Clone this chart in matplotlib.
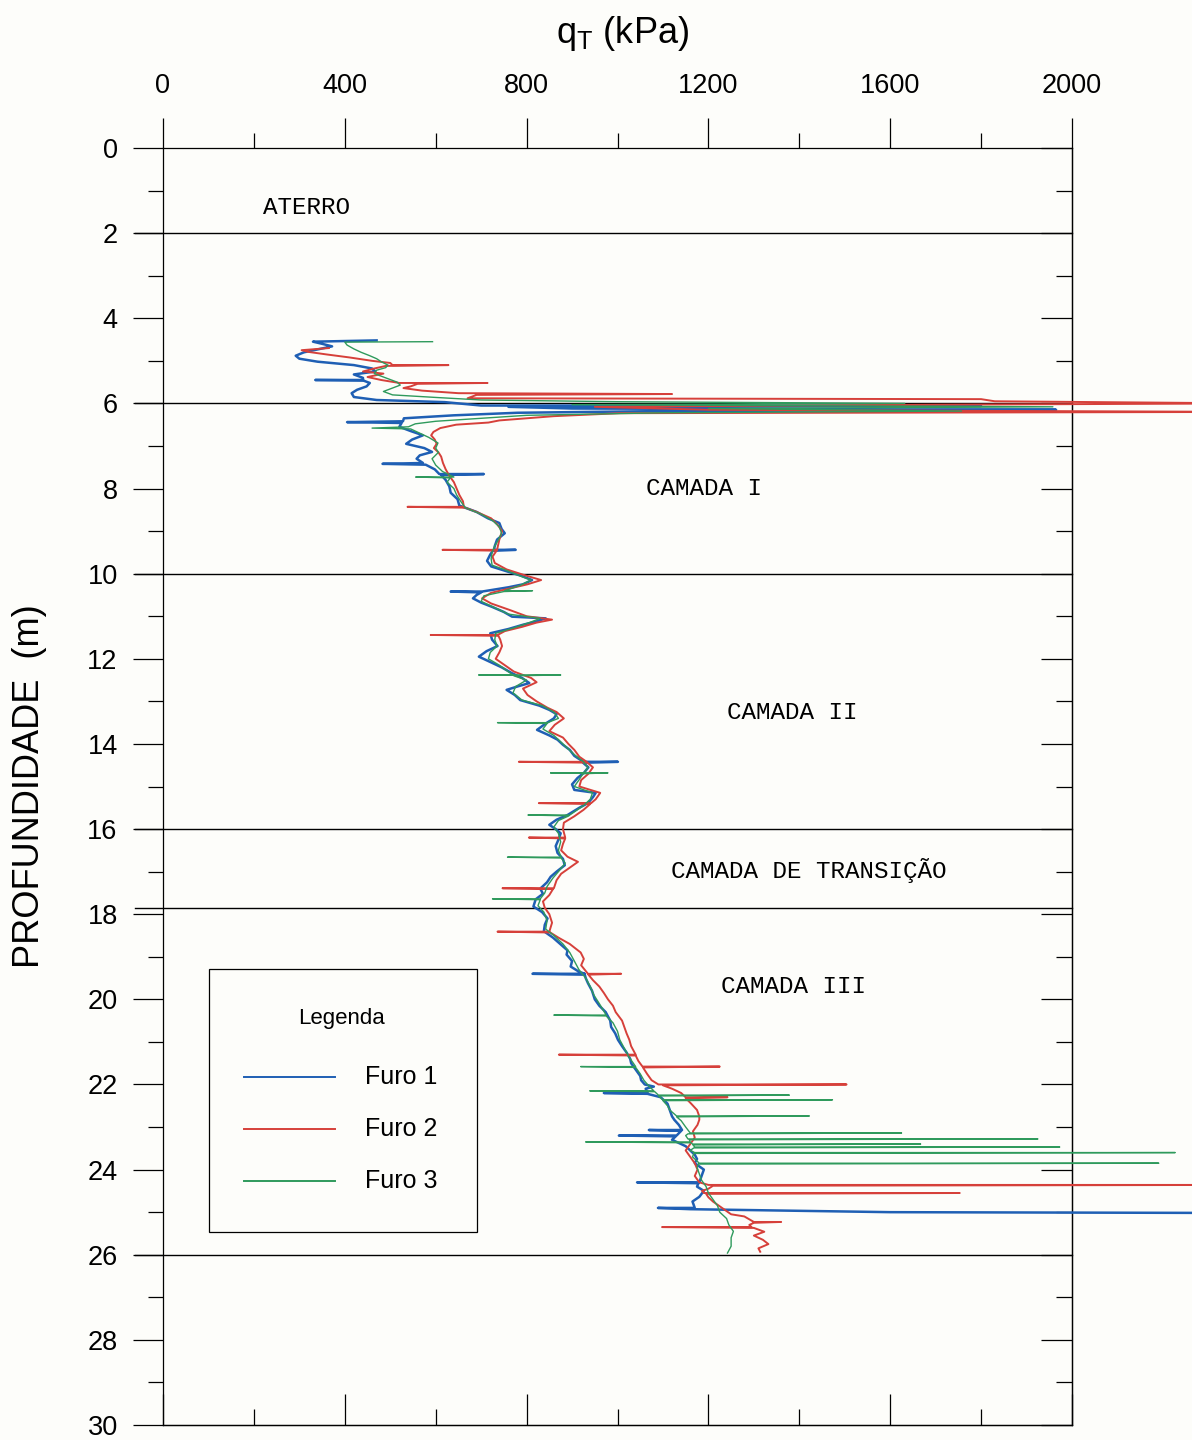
##import modules
import matplotlib
matplotlib.use("Agg")
import matplotlib.pyplot as plt
from matplotlib.ticker import MultipleLocator
from matplotlib.lines import Line2D
from matplotlib.patches import Rectangle

plt.rcParams['font.family'] = ['Liberation Sans', 'DejaVu Sans']
plt.rcParams['mathtext.fontset'] = 'custom'
plt.rcParams['mathtext.rm'] = 'Liberation Sans'
plt.rcParams['mathtext.it'] = 'Liberation Sans'

##data: (depth m, qT kPa)
furo1 = [(4.52, 470), (4.55, 330), (4.60, 350), (4.66, 372), (4.72, 345), (4.80, 310), (4.88, 292), (4.95, 300),
         (5.02, 340), (5.10, 420), (5.18, 460), (5.25, 467), (5.32, 420), (5.40, 440), (5.45, 440), (5.45, 335),
         (5.46, 440), (5.52, 455), (5.60, 448), (5.68, 427), (5.76, 415), (5.85, 420), (5.92, 470), (5.97, 620),
         (6.03, 680), (6.05, 700), (6.06, 1800), (6.08, 760), (6.12, 900), (6.15, 1965), (6.18, 1100), (6.22, 780),
         (6.28, 640), (6.35, 530), (6.42, 528), (6.44, 405), (6.46, 525), (6.55, 520), (6.65, 545), (6.75, 572),
         (6.85, 548), (6.95, 535), (7.05, 575), (7.14, 592), (7.22, 565), (7.30, 558), (7.40, 572), (7.42, 483),
         (7.44, 578), (7.55, 598), (7.66, 608), (7.66, 706), (7.68, 612), (7.80, 622), (7.95, 630), (8.10, 633),
         (8.25, 648), (8.40, 652), (8.55, 690), (8.70, 715), (8.81, 740), (8.95, 745), (9.05, 752), (9.20, 735),
         (9.35, 730), (9.44, 728), (9.44, 776), (9.46, 726), (9.55, 720), (9.70, 713), (9.83, 722), (9.95, 758),
         (10.05, 788), (10.15, 812), (10.25, 792), (10.32, 760), (10.42, 702), (10.42, 633), (10.44, 700),
         (10.50, 690), (10.58, 682), (10.68, 700), (10.78, 724), (10.90, 750), (11.01, 768), (11.05, 842),
         (11.12, 822), (11.20, 792), (11.30, 760), (11.40, 720), (11.55, 724), (11.70, 736), (11.82, 712),
         (11.95, 695), (12.05, 715), (12.20, 745), (12.34, 768), (12.45, 790), (12.57, 806), (12.65, 780),
         (12.73, 756), (12.85, 774), (12.97, 786), (13.10, 828), (13.20, 850), (13.30, 866), (13.40, 860),
         (13.52, 842), (13.67, 823), (13.80, 850), (13.90, 868), (14.02, 880), (14.14, 895), (14.28, 905),
         (14.42, 925), (14.42, 1001), (14.44, 924), (14.55, 936), (14.68, 926), (14.80, 912), (14.95, 900),
         (15.08, 905), (15.15, 952), (15.25, 946), (15.39, 935), (15.50, 916), (15.67, 890), (15.78, 866),
         (15.90, 850), (16.00, 864), (16.10, 875), (16.25, 870), (16.40, 864), (16.56, 868), (16.70, 880),
         (16.85, 884), (17.00, 866), (17.12, 853), (17.25, 845), (17.40, 830), (17.52, 836), (17.65, 820),
         (17.82, 815), (17.95, 834), (18.10, 846), (18.25, 840), (18.40, 838), (18.55, 858), (18.70, 874),
         (18.85, 890), (18.95, 888), (19.10, 900), (19.23, 897), (19.35, 915), (19.40, 928), (19.40, 813),
         (19.42, 928), (19.50, 930), (19.62, 935), (19.80, 944), (20.00, 950), (20.15, 960), (20.30, 974),
         (20.50, 984), (20.65, 986), (20.80, 995), (20.95, 1001), (21.10, 1010), (21.25, 1020), (21.40, 1028),
         (21.50, 1030), (21.65, 1040), (21.80, 1050), (21.90, 1052), (22.00, 1060), (22.05, 1080), (22.10, 1062),
         (22.20, 1066), (22.20, 970), (22.22, 1066), (22.30, 1095), (22.45, 1110), (22.60, 1115), (22.75, 1120),
         (22.83, 1125), (22.95, 1135), (23.07, 1142), (23.07, 1069), (23.09, 1140), (23.20, 1130), (23.20, 1003),
         (23.22, 1128), (23.30, 1120), (23.45, 1150), (23.55, 1160), (23.65, 1170), (23.75, 1175), (23.85, 1170),
         (24.00, 1190), (24.15, 1185), (24.30, 1180), (24.30, 1043), (24.32, 1178), (24.40, 1175), (24.50, 1190),
         (24.64, 1180), (24.75, 1165), (24.90, 1170), (24.90, 1089), (24.93, 1160), (25.00, 1600), (25.02, 2400)]

furo2 = [(4.70, 365), (4.75, 305), (4.79, 320), (4.85, 360), (4.92, 410), (5.00, 460), (5.05, 500), (5.10, 505),
         (5.10, 628), (5.12, 490), (5.18, 465), (5.25, 440), (5.30, 485), (5.38, 450), (5.45, 480), (5.52, 520),
         (5.52, 714), (5.54, 560), (5.60, 545), (5.64, 529), (5.70, 570), (5.76, 650), (5.78, 1120), (5.80, 690),
         (5.88, 670), (5.90, 1800), (5.95, 1830), (6.00, 2400), (6.03, 1700), (6.08, 950), (6.15, 1200),
         (6.20, 2400), (6.23, 1005), (6.30, 860), (6.40, 740), (6.45, 716), (6.50, 645), (6.58, 610), (6.67, 595),
         (6.75, 590), (6.85, 598), (6.95, 602), (7.05, 596), (7.15, 606), (7.25, 612), (7.40, 616), (7.55, 622),
         (7.70, 630), (7.85, 640), (8.00, 646), (8.15, 652), (8.30, 660), (8.43, 662), (8.43, 538), (8.45, 665),
         (8.55, 690), (8.70, 722), (8.85, 736), (9.00, 746), (9.20, 740), (9.44, 735), (9.44, 615), (9.46, 734),
         (9.60, 725), (9.75, 730), (9.90, 756), (10.05, 800), (10.15, 832), (10.25, 802), (10.35, 762),
         (10.45, 722), (10.58, 702), (10.70, 722), (10.85, 762), (11.00, 800), (11.08, 856), (11.15, 822),
         (11.25, 790), (11.35, 752), (11.44, 736), (11.44, 589), (11.46, 738), (11.55, 742), (11.70, 746),
         (11.85, 740), (12.00, 732), (12.15, 752), (12.30, 772), (12.45, 810), (12.55, 822), (12.70, 792),
         (12.85, 802), (13.00, 822), (13.15, 846), (13.25, 866), (13.40, 882), (13.55, 862), (13.70, 850),
         (13.85, 880), (14.00, 892), (14.14, 905), (14.30, 916), (14.42, 932), (14.42, 783), (14.44, 934),
         (14.55, 946), (14.70, 936), (14.85, 920), (15.00, 916), (15.15, 962), (15.30, 952), (15.39, 942),
         (15.39, 827), (15.41, 940), (15.55, 925), (15.70, 905), (15.85, 882), (16.00, 880), (16.20, 885),
         (16.20, 805), (16.22, 885), (16.35, 880), (16.50, 876), (16.65, 890), (16.77, 913), (16.90, 896),
         (17.05, 876), (17.20, 866), (17.39, 860), (17.39, 747), (17.41, 858), (17.55, 850), (17.70, 836),
         (17.85, 840), (18.00, 850), (18.20, 856), (18.41, 850), (18.41, 736), (18.43, 852), (18.55, 870),
         (18.70, 895), (18.90, 919), (19.05, 926), (19.20, 920), (19.40, 935), (19.40, 1008), (19.42, 936),
         (19.55, 946), (19.70, 960), (19.85, 970), (20.00, 979), (20.15, 990), (20.30, 996), (20.50, 1010),
         (20.65, 1015), (20.80, 1020), (20.95, 1026), (21.10, 1030), (21.30, 1040), (21.30, 871), (21.32, 1040),
         (21.45, 1046), (21.58, 1055), (21.58, 1225), (21.60, 1056), (21.75, 1065), (21.90, 1075), (22.00, 1090),
         (22.00, 1504), (22.02, 1100), (22.10, 1120), (22.20, 1140), (22.30, 1150), (22.30, 1242), (22.32, 1150),
         (22.45, 1162), (22.60, 1175), (22.75, 1180), (22.83, 1180), (22.95, 1176), (23.10, 1166), (23.25, 1170),
         (23.40, 1160), (23.55, 1150), (23.70, 1160), (23.85, 1170), (24.00, 1176), (24.15, 1170), (24.30, 1180),
         (24.36, 1200), (24.36, 2400), (24.38, 1210), (24.45, 1200), (24.50, 1186), (24.55, 1190), (24.55, 1753),
         (24.57, 1195), (24.65, 1200), (24.75, 1210), (24.90, 1230), (25.05, 1250), (25.10, 1279), (25.23, 1300),
         (25.23, 1360), (25.25, 1300), (25.30, 1290), (25.35, 1295), (25.35, 1098), (25.37, 1300), (25.46, 1323),
         (25.55, 1300), (25.65, 1320), (25.75, 1332), (25.85, 1310), (25.93, 1314)]

furo3 = [(4.55, 593), (4.56, 400), (4.63, 405), (4.72, 420), (4.80, 436), (4.88, 455), (4.95, 470), (5.02, 480),
         (5.10, 495), (5.16, 490), (5.22, 470), (5.30, 465), (5.40, 490), (5.50, 515), (5.57, 522), (5.64, 505),
         (5.72, 485), (5.80, 505), (5.86, 600), (5.92, 700), (5.96, 1000), (6.00, 1632), (6.03, 900), (6.08, 1958),
         (6.12, 1200), (6.18, 1757), (6.22, 1100), (6.28, 800), (6.35, 700), (6.42, 600), (6.48, 555), (6.55, 540),
         (6.58, 460), (6.60, 545), (6.70, 565), (6.80, 585), (6.93, 605), (7.05, 600), (7.15, 606), (7.30, 592),
         (7.45, 600), (7.60, 615), (7.73, 640), (7.73, 556), (7.75, 632), (7.85, 625), (8.00, 640), (8.15, 646),
         (8.30, 655), (8.45, 665), (8.60, 700), (8.75, 725), (8.90, 740), (9.05, 745), (9.20, 738), (9.35, 730),
         (9.50, 724), (9.65, 722), (9.80, 724), (9.90, 750), (10.05, 785), (10.15, 810), (10.28, 785), (10.40, 752),
         (10.40, 813), (10.42, 750), (10.52, 706), (10.65, 700), (10.80, 730), (10.95, 760), (11.05, 830),
         (11.15, 806), (11.28, 770), (11.40, 732), (11.55, 730), (11.70, 735), (11.85, 720), (12.00, 716),
         (12.15, 740), (12.38, 770), (12.38, 695), (12.38, 875), (12.40, 772), (12.50, 800), (12.65, 776),
         (12.80, 770), (12.97, 790), (13.10, 835), (13.25, 860), (13.40, 870), (13.50, 846), (13.50, 736),
         (13.52, 845), (13.65, 836), (13.80, 860), (13.95, 875), (14.10, 890), (14.25, 905), (14.42, 925),
         (14.55, 935), (14.68, 926), (14.68, 853), (14.68, 979), (14.70, 924), (14.85, 915), (15.00, 905),
         (15.15, 945), (15.30, 940), (15.45, 925), (15.67, 895), (15.67, 803), (15.69, 893), (15.80, 870),
         (15.95, 860), (16.10, 870), (16.30, 875), (16.50, 870), (16.66, 876), (16.66, 758), (16.68, 876),
         (16.80, 885), (17.00, 870), (17.15, 858), (17.35, 845), (17.50, 840), (17.64, 830), (17.64, 725),
         (17.66, 830), (17.80, 825), (17.95, 838), (18.15, 845), (18.35, 842), (18.50, 860), (18.70, 880),
         (18.90, 895), (19.10, 905), (19.30, 915), (19.50, 930), (19.70, 940), (19.90, 948), (20.10, 960),
         (20.37, 975), (20.37, 860), (20.39, 975), (20.55, 990), (20.75, 1000), (20.95, 1005), (21.15, 1015),
         (21.35, 1025), (21.58, 1040), (21.58, 919), (21.60, 1040), (21.75, 1050), (21.90, 1058), (22.05, 1070),
         (22.15, 1080), (22.15, 939), (22.17, 1082), (22.25, 1090), (22.25, 1378), (22.27, 1090), (22.36, 1100),
         (22.36, 1473), (22.38, 1100), (22.50, 1110), (22.60, 1115), (22.74, 1130), (22.74, 1422), (22.76, 1130),
         (22.85, 1140), (23.00, 1150), (23.14, 1160), (23.14, 1625), (23.16, 1155), (23.20, 1150), (23.28, 1155),
         (23.28, 1925), (23.30, 1158), (23.35, 1160), (23.35, 930), (23.37, 1162), (23.40, 1165), (23.40, 1667),
         (23.42, 1166), (23.47, 1170), (23.47, 1973), (23.49, 1168), (23.55, 1160), (23.60, 1170), (23.60, 2227),
         (23.62, 1168), (23.70, 1165), (23.85, 1180), (23.85, 2191), (23.87, 1178), (23.95, 1175), (24.10, 1180),
         (24.25, 1185), (24.40, 1195), (24.55, 1200), (24.70, 1210), (24.85, 1220), (25.00, 1225), (25.15, 1240),
         (25.30, 1245), (25.45, 1255), (25.60, 1250), (25.80, 1250), (25.96, 1242)]

##layer limits and names
limites_camadas = [2, 6, 10, 16, 17.85, 26]
nomes_camadas = ["ATERRO", "CAMADA I", "CAMADA II", "CAMADA DE TRANSIÇÃO", "CAMADA III"]
pos_nomes = [(315, 1.4), (1190, 8.0), (1385, 13.27), (1420, 16.98), (1387, 19.7)]

furos = ["Furo 1", "Furo 2", "Furo 3"]
cores = ["#1f5fb4", "#d6403a", "#2f9a5c"]
larguras = [1.8, 1.4, 1.0]

##figure
fig = plt.figure(figsize=(11.92, 14.4), dpi=100, facecolor="#fdfdfa")
ax = fig.add_axes([163 / 1192, 15 / 1440, 909 / 1192, 1277 / 1440])
ax.set_facecolor("#fdfdfa")

for dados, cor, lw in zip([furo1, furo2, furo3], cores, larguras):
    prof, qt = zip(*dados)
    ax.plot(qt, prof, color=cor, lw=lw, clip_on=False, zorder=3)

for d in limites_camadas:
    ax.plot([-62, 2000], [d, d], color="black", lw=1.0, clip_on=False, zorder=2)

for nome, (x, y) in zip(nomes_camadas, pos_nomes):
    ax.text(x, y, nome, family="Liberation Mono", fontsize=17.5, ha="center", va="center")

ax.set_xlim(0, 2000)
ax.set_ylim(30, 0)

##axis ticks: top/left out, bottom/right in
ax.xaxis.tick_top()
ax.set_xticks(range(0, 2001, 400))
ax.xaxis.set_minor_locator(MultipleLocator(200))
ax.set_yticks(range(0, 31, 2))
ax.yaxis.set_minor_locator(MultipleLocator(1))
ax.tick_params(which="major", direction="out", length=21.6, width=0.9, labelsize=19.5)
ax.tick_params(axis="x", pad=14)
ax.tick_params(axis="y", pad=11)
ax.tick_params(which="minor", direction="out", length=10.8, width=0.9)

bx = ax.secondary_xaxis("bottom")
bx.set_xticks(range(0, 2001, 400))
bx.xaxis.set_minor_locator(MultipleLocator(200))
bx.tick_params(which="major", direction="in", length=22.5, width=0.9, labelbottom=False)
bx.tick_params(which="minor", direction="in", length=11.5, width=0.9)

ry = ax.secondary_yaxis("right")
ry.set_yticks(range(0, 31, 2))
ry.yaxis.set_minor_locator(MultipleLocator(1))
ry.tick_params(which="major", direction="in", length=22.5, width=0.9, labelright=False)
ry.tick_params(which="minor", direction="in", length=11.5, width=0.9)

for s in list(ax.spines.values()) + [bx.spines["bottom"], ry.spines["right"]]:
    s.set_linewidth(0.9)

ax.xaxis.set_label_position("top")
ax.set_xlabel(r"q$_\mathrm{T}$ (kPa)", fontsize=26)
ax.xaxis.set_label_coords(0.505, 1.082)
ax.set_ylabel("PROFUNDIDADE  (m)", fontsize=26)
ax.yaxis.set_label_coords(-0.128, 0.5)

##legend box drawn by hand
tr = ax.transAxes
ax.add_patch(Rectangle((0.0506, 0.151), 0.2948, 0.206, transform=tr, fill=False,
                       edgecolor="black", lw=0.9, zorder=5))
ax.text(0.196, 0.318, "Legenda", transform=tr, fontsize=16, ha="center", va="center")
for i, (nome, cor) in enumerate(zip(furos, cores)):
    yy = 0.2725 - i * 0.0408
    ax.add_line(Line2D([0.089, 0.189], [yy, yy], transform=tr, color=cor, lw=1.4))
    ax.text(0.222, yy, nome, transform=tr, fontsize=18, ha="left", va="center")

fig.savefig("out.png", dpi=100, facecolor=fig.get_facecolor())
